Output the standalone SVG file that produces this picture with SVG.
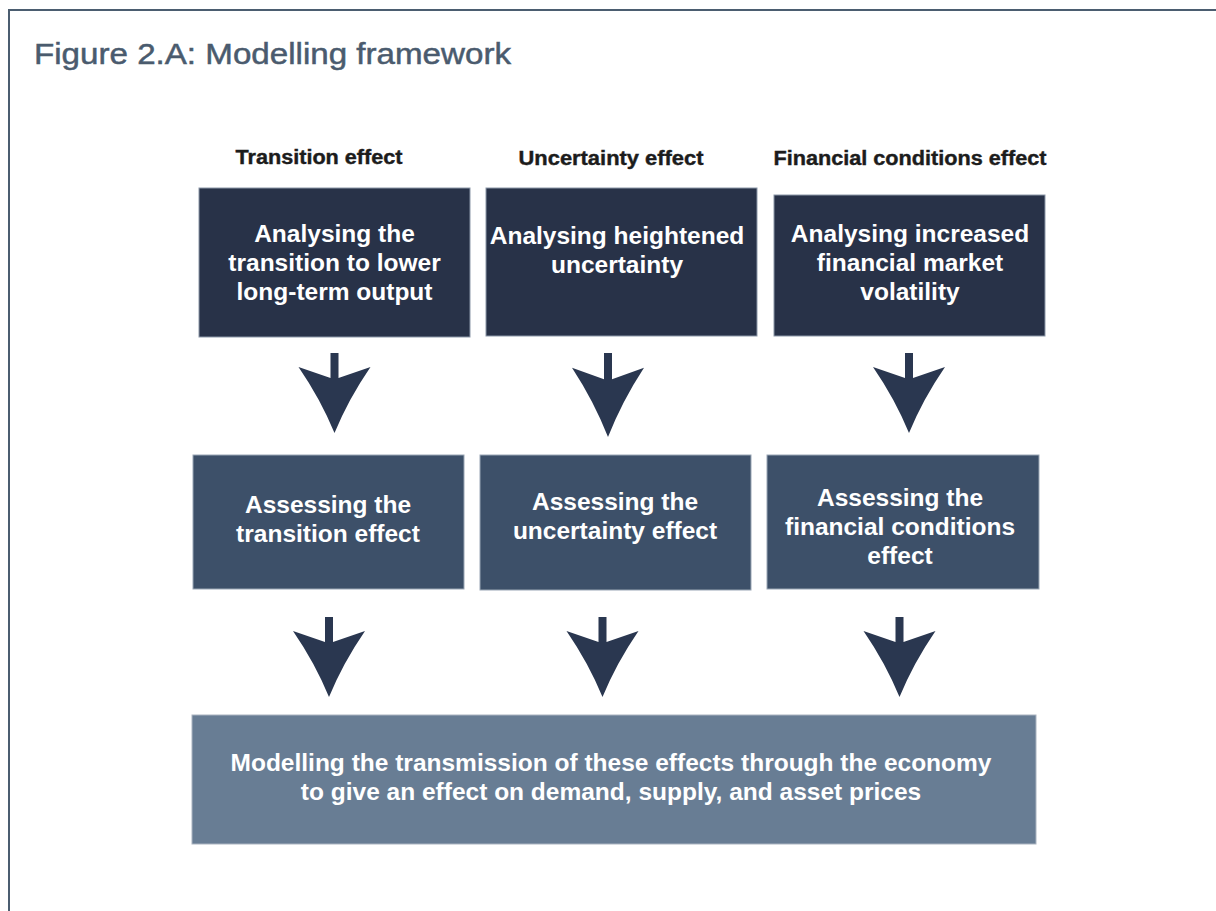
<svg xmlns="http://www.w3.org/2000/svg" width="1216" height="911" viewBox="0 0 1216 911">
<style>
.title{font-family:"Liberation Sans",Arial,sans-serif;font-size:30px;fill:#4a5b6e;stroke:#4a5b6e;stroke-width:0.5}
.hdr{font-family:"Liberation Sans",Arial,sans-serif;font-size:20px;font-weight:bold;fill:#1c1c1c;stroke:#1c1c1c;stroke-width:0.4;text-anchor:middle}
.bt{font-family:"Liberation Sans",Arial,sans-serif;font-size:24.5px;font-weight:bold;fill:#ffffff;text-anchor:middle}
.r1{fill:#283248;stroke:#8b97a8;stroke-width:1}
.r2{fill:#3d5069;stroke:#9aa6b5;stroke-width:1}
.r3{fill:#687d94;stroke:#aab4c0;stroke-width:1}
.arr{fill:#2a3750}
</style>
<defs>
<path id="arrow" d="M -4 0 H 4 V 25 L 36 14 Q 14 46 0 80 Q -14 46 -36 14 L -4 25 Z"/>
</defs>
<rect x="0" y="0" width="1216" height="911" fill="#ffffff"/>
<g id="frame" fill="none" stroke="#4b5d70" stroke-width="2">
<path d="M 9 911 V 10 H 1216"/>
</g>
<text class="title" x="34" y="64" textLength="477" lengthAdjust="spacingAndGlyphs">Figure 2.A: Modelling framework</text>
<g id="headers">
<text class="hdr" x="319" y="164" textLength="167" lengthAdjust="spacingAndGlyphs">Transition effect</text>
<text class="hdr" x="611" y="165" textLength="185" lengthAdjust="spacingAndGlyphs">Uncertainty effect</text>
<text class="hdr" x="910" y="165" textLength="273" lengthAdjust="spacingAndGlyphs">Financial conditions effect</text>
</g>
<g id="node-analyse-transition">
<rect class="r1" x="199" y="188" width="271" height="149"/>
<text class="bt" x="334.5" y="242">Analysing the</text>
<text class="bt" x="334.5" y="271">transition to lower</text>
<text class="bt" x="334.5" y="300">long-term output</text>
</g>
<g id="node-analyse-uncertainty">
<rect class="r1" x="486" y="188" width="271" height="148"/>
<text class="bt" x="617" y="244">Analysing heightened</text>
<text class="bt" x="617" y="273">uncertainty</text>
</g>
<g id="node-analyse-financial">
<rect class="r1" x="774" y="195" width="271" height="141"/>
<text class="bt" x="910" y="242">Analysing increased</text>
<text class="bt" x="910" y="271">financial market</text>
<text class="bt" x="910" y="300">volatility</text>
</g>
<g id="node-assess-transition">
<rect class="r2" x="193" y="455" width="271" height="134"/>
<text class="bt" x="328" y="513">Assessing the</text>
<text class="bt" x="328" y="542">transition effect</text>
</g>
<g id="node-assess-uncertainty">
<rect class="r2" x="480" y="455" width="271" height="135"/>
<text class="bt" x="615" y="510">Assessing the</text>
<text class="bt" x="615" y="539">uncertainty effect</text>
</g>
<g id="node-assess-financial">
<rect class="r2" x="767" y="455" width="272" height="134"/>
<text class="bt" x="900" y="506">Assessing the</text>
<text class="bt" x="900" y="535">financial conditions</text>
<text class="bt" x="900" y="564">effect</text>
</g>
<g id="node-modelling">
<rect class="r3" x="192" y="715" width="844" height="129"/>
<text class="bt" x="611" y="771">Modelling the transmission of these effects through the economy</text>
<text class="bt" x="611" y="800">to give an effect on demand, supply, and asset prices</text>
</g>
<g id="connectors" class="arr">
<use href="#arrow" transform="translate(334.5,353)"/>
<use href="#arrow" transform="translate(608,353) scale(1,1.05)"/>
<use href="#arrow" transform="translate(909,353)"/>
<use href="#arrow" transform="translate(329,617)"/>
<use href="#arrow" transform="translate(602.5,617)"/>
<use href="#arrow" transform="translate(899.5,617)"/>
</g>
</svg>
